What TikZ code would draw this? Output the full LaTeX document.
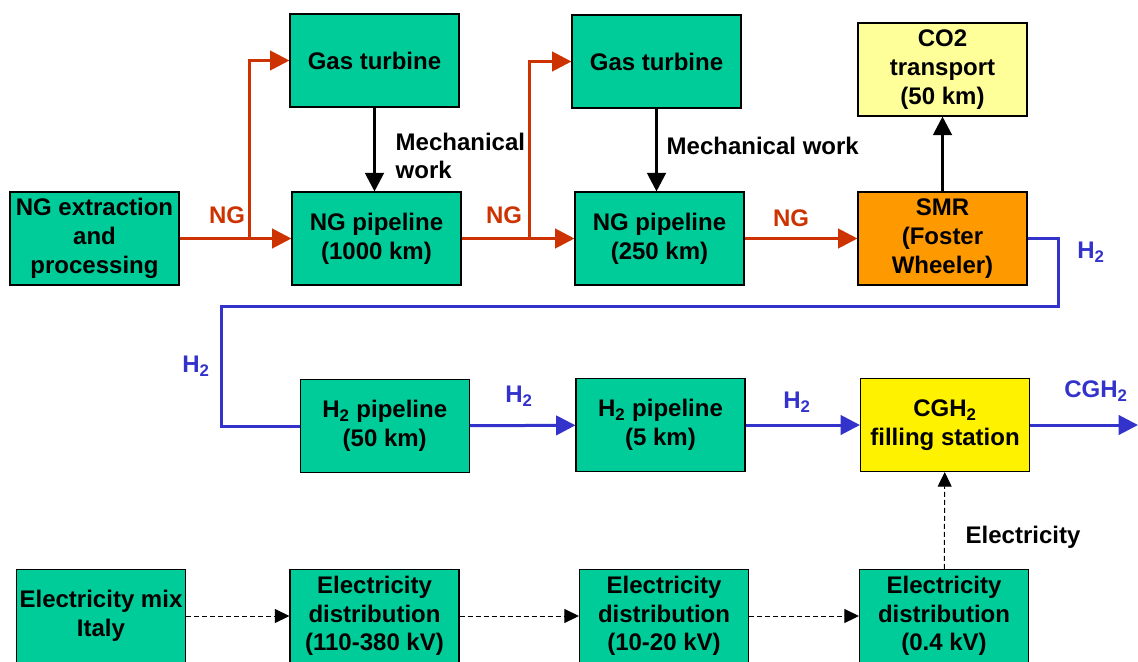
\documentclass[tikz,border=0pt]{standalone}
\usepackage{fontspec}
\setmainfont{Liberation Sans}
\usetikzlibrary{positioning,arrows.meta}

\definecolor{boxgreen}{HTML}{00CC99}
\definecolor{paleyellow}{HTML}{FFFF99}
\definecolor{smrorange}{HTML}{FF9900}
\definecolor{ngred}{HTML}{CC3300}
\definecolor{h2blue}{HTML}{3333CC}

\begin{document}
\begin{tikzpicture}[
    x=0.75pt,y=-0.75pt,
    unit/.style={rectangle,draw,line width=0.8pt,fill=boxgreen,inner sep=0pt,
      minimum width=126.75pt,minimum height=69.75pt,align=center},
    ngflow/.style={draw=ngred,line width=2.25pt,-{Triangle[length=14.5pt,width=14.5pt]},ngred},
    h2flow/.style={draw=h2blue,line width=2.25pt,-{Triangle[length=14.5pt,width=14.5pt]},h2blue},
    work/.style={line width=2.25pt,-{Triangle[length=14pt,width=14pt]}},
    elflow/.style={line width=0.75pt,dash pattern=on 3.75pt off 2.25pt,-{Triangle[length=11pt,width=10.5pt]}},
    font=\bfseries\fontsize{18}{21.5}\selectfont
    ]
    \useasboundingbox (0,0) rectangle (1138,661);

    % natural gas line:
    \node (ng) at (94.5,238.5) [unit] {NG extraction\\and\\processing};
    \node (gt1) at (374.5,60.5) [unit] {Gas turbine};
    \node (pipe1) at (376.5,238.5) [unit] {NG pipeline\\(1000 km)};
    \node (gt2) at (656.5,61.5) [unit] {Gas turbine};
    \node (pipe2) at (659.5,238.5) [unit] {NG pipeline\\(250 km)};
    \node (smr) at (942.5,238.5) [unit,fill=smrorange] {SMR\\(Foster\\Wheeler)};
    \node (co2) at (942.5,69.5) [unit,fill=paleyellow] {CO2\\transport\\(50 km)};

    % hydrogen line:
    \node (h2a) at (384.75,426) [unit] {H\textsubscript{2} pipeline\\(50 km)};
    \node (h2b) at (660.5,425) [unit] {H\textsubscript{2} pipeline\\(5 km)};
    \node (cgh) at (945,425) [unit,fill=yellow] {CGH\textsubscript{2}\\filling station};

    % electricity line:
    \node (el) at (101,616) [unit] {Electricity mix\\Italy};
    \node (ed1) at (374.5,616) [unit] {Electricity\\distribution\\(110-380 kV)};
    \node (ed2) at (664,616) [unit] {Electricity\\distribution\\(10-20 kV)};
    \node (ed3) at (944,616) [unit] {Electricity\\distribution\\(0.4 kV)};

    % bends:
    \coordinate (b1) at (249,238.5);
    \coordinate (b2) at (529,238.5);
    \coordinate (c1) at (1058,306);
    \coordinate (c2) at (221,306);
    \coordinate (out) at (1138,425);

    % labels:
    \node (lng1) at (227,215) [ngred] {NG};
    \node (lng2) at (504,215) [ngred] {NG};
    \node (lng3) at (791,218) [ngred] {NG};
    \node (mw1) at (391,156) [anchor=west,align=left] {Mechanical\\work};
    \node (mw2) at (662,146) [anchor=west] {Mechanical work};
    \node (lh1) at (1091,252) [h2blue] {H\textsubscript{2}};
    \node (lh2) at (196,366) [h2blue] {H\textsubscript{2}};
    \node (lh3) at (519,396) [h2blue] {H\textsubscript{2}};
    \node (lh4) at (797,402) [h2blue] {H\textsubscript{2}};
    \node (lh5) at (1096,391) [h2blue] {CGH\textsubscript{2}};
    \node (lel) at (961,537) [anchor=west] {Electricity};

    % connections:
    \draw [ngflow] (ng) -- (pipe1);
    \draw [ngflow] (b1) |- (gt1);
    \draw [ngflow] (pipe1) -- (pipe2);
    \draw [ngflow] (b2) |- (gt2);
    \draw [ngflow] (pipe2) -- (smr);

    \draw [work] (gt1.south) -- (gt1.south |- pipe1.north);
    \draw [work] (gt2.south) -- (gt2.south |- pipe2.north);
    \draw [work] (smr) -- (co2);

    \draw [h2flow,-] (smr.east) -| (c1) -- (c2) |- (h2a.west);
    \draw [h2flow] (h2a) -- (h2b);
    \draw [h2flow] (h2b) -- (cgh);
    \draw [h2flow] (cgh) -- (out);

    \draw [elflow] (el) -- (ed1);
    \draw [elflow] (ed1) -- (ed2);
    \draw [elflow] (ed2) -- (ed3);
    \draw [elflow] (ed3) -- (cgh);

  \end{tikzpicture}
\end{document}
